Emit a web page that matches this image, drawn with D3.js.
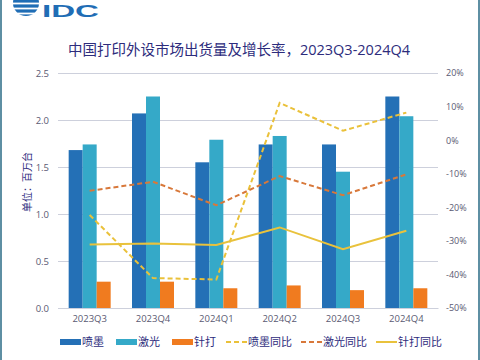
<!DOCTYPE html>
<html><head><meta charset="utf-8">
<script src="https://cdn.jsdelivr.net/npm/d3@7"></script>
<style>html,body{margin:0;padding:0;background:#fff;}svg{display:block;font-family:"Open Sans","Noto Sans CJK SC",sans-serif;}</style>
</head><body><svg id="c" width="480" height="360"></svg>
<script>
const categories = ["2023Q3","2023Q4","2024Q1","2024Q2","2024Q3","2024Q4"];
const inkjet = [1.68,2.07,1.55,1.74,1.74,2.25];
const laser = [1.74,2.25,1.79,1.83,1.45,2.04];
const dotMatrix = [0.28,0.28,0.21,0.24,0.19,0.21];
const inkjetYoY = [-22.3,-41.1,-41.5,11.1,2.8,8.2];
const laserYoY = [-15.1,-12.4,-19.4,-10.7,-16.4,-10.2];
const dotYoY = [-31.1,-30.8,-31.2,-26.0,-32.5,-27.0];
const leftTicks = [0,0.5,1.0,1.5,2.0,2.5];
const rightTicks = [-50,-40,-30,-20,-10,0,10,20];
const barSeries = [
  {name:"喷墨", values:inkjet, color:"#2470b6"},
  {name:"激光", values:laser, color:"#35a9c8"},
  {name:"针打", values:dotMatrix, color:"#f07b1f"}
];
const lineSeries = [
  {name:"喷墨同比", values:inkjetYoY, color:"#eac13a", dash:"5,3"},
  {name:"激光同比", values:laserYoY, color:"#d8783a", dash:"5,3"},
  {name:"针打同比", values:dotYoY, color:"#e9c23c", dash:null}
];

const svg = d3.select("#c");
const L=58, R=438, T=73, B=308;
const x = d3.scaleBand().domain(categories).range([L,R]).paddingInner(0).paddingOuter(0);
const y = d3.scaleLinear().domain([0,2.5]).range([B,T]);
const y2 = d3.scaleLinear().domain([-50,20]).range([B,T]);
const sub = d3.scaleBand().domain(barSeries.map(d=>d.name)).range([0,42]);
const off = (x.bandwidth()-42)/2;

// border
svg.append("rect").attr("x",1).attr("y",-2).attr("width",478).attr("height",364).attr("fill","none").attr("stroke","#5e8fa3").attr("stroke-width",2);

// logo
const logo = svg.append("g");
const cx=26, cy=3, r=13;
logo.append("clipPath").attr("id","gl").append("circle").attr("cx",cx).attr("cy",cy).attr("r",r);
[-7,-2,3,8,13].forEach(dy=>{
  logo.append("rect").attr("x",cx-r).attr("y",cy+dy-1.6).attr("width",2*r).attr("height",3.2).attr("fill","#1f6db5").attr("clip-path","url(#gl)");
});
logo.append("text").attr("x",42).attr("y",17).attr("font-size",17).attr("font-weight",700).attr("fill","#1f6db5")
  .attr("font-family","Liberation Sans, Arial, sans-serif").attr("textLength",57).attr("lengthAdjust","spacingAndGlyphs").text("IDC");

// title
svg.append("text").attr("x",239).attr("y",55).attr("text-anchor","middle").attr("font-size",14.5).attr("fill","#2d2c7c").text("中国打印外设市场出货量及增长率，2023Q3-2024Q4");

// grid
svg.append("g").selectAll("line").data(leftTicks).join("line")
  .attr("x1",L).attr("x2",R).attr("y1",d=>y(d)+0.5).attr("y2",d=>y(d)+0.5)
  .attr("stroke","#cdd0dc").attr("stroke-width",1);

// left axis
const la = svg.append("g").attr("transform",`translate(${L},0)`).call(d3.axisLeft(y).tickValues(leftTicks).tickFormat(d3.format(".1f")).tickSize(0).tickPadding(9));
la.select(".domain").remove();
la.selectAll("text").attr("font-size",9.5).attr("fill","#5a5a72").attr("font-family","Open Sans, sans-serif");

// right axis
const ra = svg.append("g").attr("transform",`translate(${R},0)`).call(d3.axisRight(y2).tickValues(rightTicks).tickFormat(d=>d+"%").tickSize(0).tickPadding(8));
ra.select(".domain").remove();
ra.selectAll("text").attr("font-size",9).attr("fill","#5a5a72").attr("font-family","Open Sans, sans-serif");

// y title
svg.append("text").attr("transform","translate(31,182) rotate(-90)").attr("text-anchor","middle").attr("font-size",10).attr("fill","#2d2c7c").text("单位：百万台");

// bars
barSeries.forEach(s=>{
  svg.append("g").selectAll("rect").data(s.values).join("rect")
    .attr("x",(d,i)=>x(categories[i])+off+sub(s.name))
    .attr("y",d=>y(d)).attr("width",sub.bandwidth()).attr("height",d=>y(0)-y(d))
    .attr("fill",s.color);
});

// lines
lineSeries.forEach(s=>{
  const line = d3.line().x((d,i)=>x(categories[i])+x.bandwidth()/2).y(d=>y2(d));
  svg.append("path").datum(s.values).attr("d",line).attr("fill","none")
    .attr("stroke",s.color).attr("stroke-width",2).attr("stroke-dasharray",s.dash);
});

// x axis
const xa = svg.append("g").attr("transform",`translate(0,${B})`).call(d3.axisBottom(x).tickSize(0).tickPadding(7));
xa.select(".domain").attr("stroke","#cdd0dc");
xa.selectAll("text").attr("font-size",9.5).attr("fill","#5a5a72").attr("font-family","Open Sans, sans-serif");

// legend
const legendItems = [
  {name:"喷墨", type:"bar", color:barSeries[0].color, x:60},
  {name:"激光", type:"bar", color:barSeries[1].color, x:116},
  {name:"针打", type:"bar", color:barSeries[2].color, x:172},
  {name:"喷墨同比", type:"line", color:lineSeries[0].color, dash:"5,3", x:226},
  {name:"激光同比", type:"line", color:lineSeries[1].color, dash:"5,3", x:301},
  {name:"针打同比", type:"line", color:lineSeries[2].color, dash:null, x:376}
];
const lg = svg.append("g");
legendItems.forEach(it=>{
  if(it.type==="bar"){
    lg.append("rect").attr("x",it.x).attr("y",339).attr("width",21).attr("height",6).attr("fill",it.color);
  } else {
    lg.append("line").attr("x1",it.x).attr("x2",it.x+21).attr("y1",342).attr("y2",342).attr("stroke",it.color).attr("stroke-width",2).attr("stroke-dasharray",it.dash);
  }
  lg.append("text").attr("x",it.x+22).attr("y",346).attr("font-size",11).attr("fill","#2d2c7c").text(it.name);
});
</script></body></html>
